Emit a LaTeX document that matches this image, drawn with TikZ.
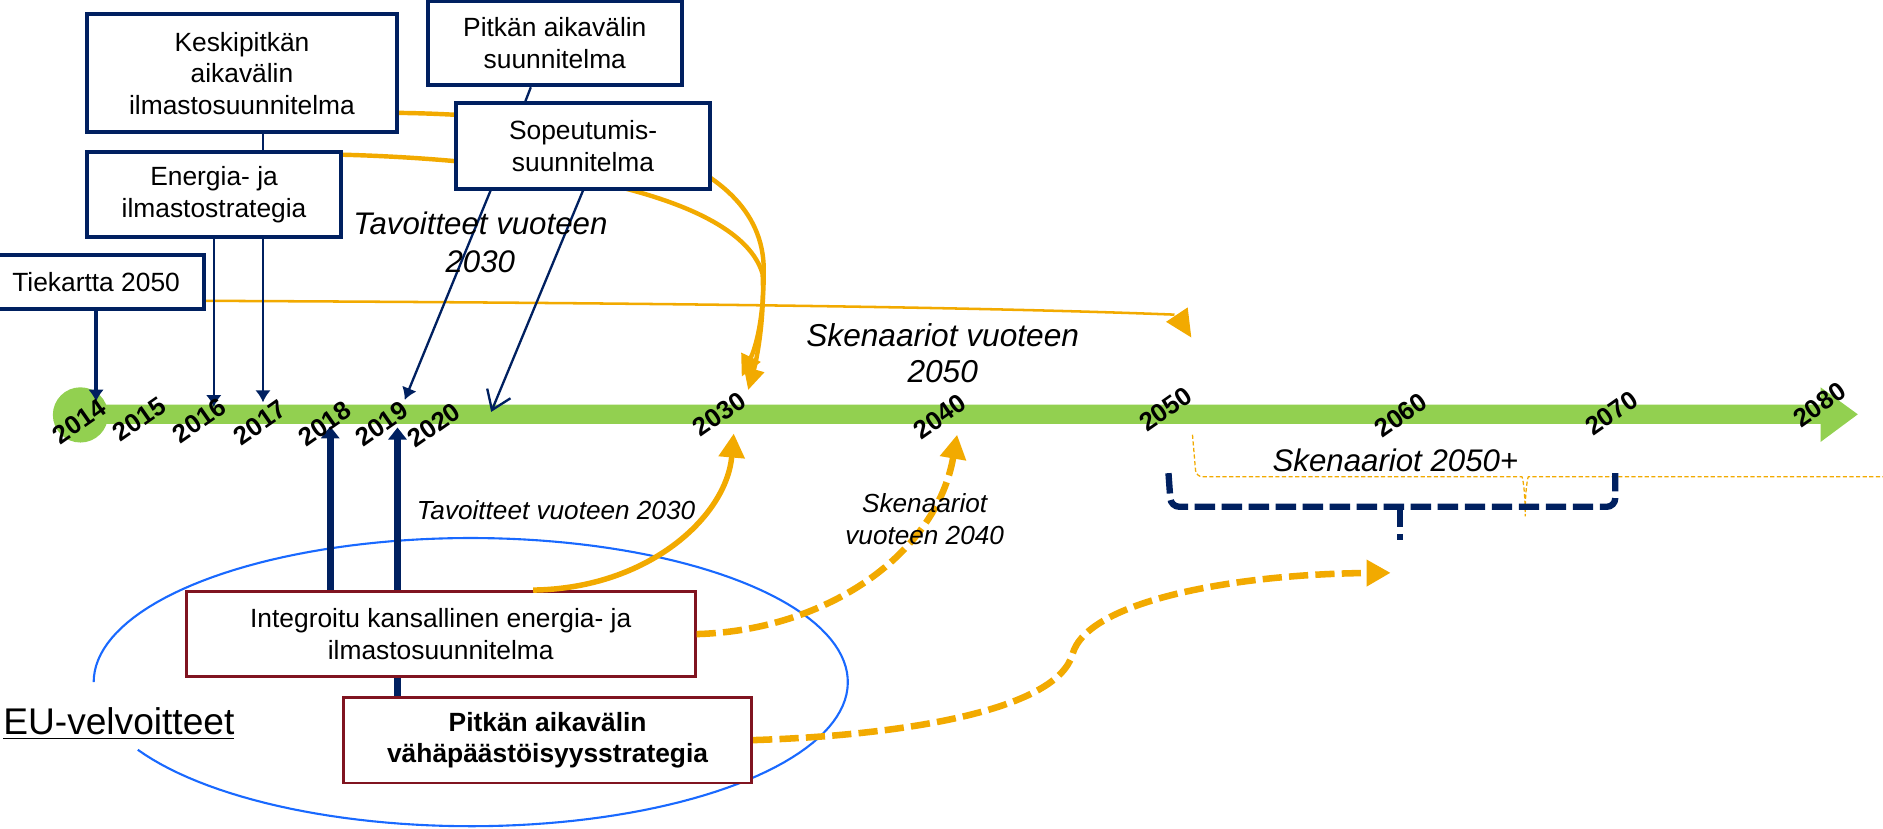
\documentclass[tikz,border=0pt]{standalone}
\usepackage{fontspec}
\setmainfont{Liberation Sans}
\usetikzlibrary{arrows.meta,calc,positioning}
\pgfdeclarelayer{back}
\pgfsetlayers{back,main}
\definecolor{navyc}{RGB}{0,32,96}
\definecolor{goldc}{RGB}{242,170,0}
\definecolor{greenc}{RGB}{146,208,80}
\definecolor{maroonc}{RGB}{128,20,32}
\definecolor{bluec}{RGB}{25,105,255}

\begin{document}
\begin{tikzpicture}[x=0.02cm, y=-0.02cm,
    navybox/.style={draw=navyc, line width=1.9pt, fill=white, inner sep=0pt, align=center, font=\fontsize{12.5}{15}\selectfont},
    redbox/.style={draw=maroonc, line width=1.3pt, fill=white, inner sep=0pt, align=center, font=\fontsize{12.5}{15}\selectfont},
    yr/.style={rotate=35, inner sep=0pt, font=\bfseries\fontsize{12.2}{13}\selectfont},
    note/.style={align=center, inner sep=0pt, font=\itshape\fontsize{12.4}{15.1}\selectfont},
    bignote/.style={align=center, inner sep=0pt, font=\itshape\fontsize{14.8}{18}\selectfont},
    thinnavy/.style={draw=navyc, line width=1.1pt, -{Latex[length=0.2cm,width=0.26cm]}},
    thicknavy/.style={draw=navyc, line width=3.4pt},
    goldsolid/.style={draw=goldc, line width=2.1pt},
    golddash/.style={draw=goldc, line width=3.1pt, dash pattern=on 0.32cm off 0.12cm},
    goldtip/.style={-{Triangle[length=0.4cm,width=0.42cm]}},
    navydash/.style={draw=navyc, line width=3pt, dash pattern=on 0.34cm off 0.11cm},
    thinbrace/.style={draw=goldc, line width=0.6pt, dash pattern=on 0.07cm off 0.04cm}]
    \useasboundingbox (0,0) rectangle (1568,690);

    \coordinate (t14) at (80,334.5);
    \coordinate (t16) at (178,339);
    \coordinate (t17) at (219,335);
    \coordinate (t19) at (337,333);
    \coordinate (t20) at (409,343);
    \coordinate (u18) at (275,355);
    \coordinate (u19) at (331,356);
    \coordinate (g30) at (611,361);
    \coordinate (g40) at (797,362);
    \coordinate (g50) at (1158,477);
    \coordinate (a1) at (617.6,313.7);
    \coordinate (a2) at (623,324.8);
    \coordinate (tk) at (978,262);

    % time axis
    \fill[greenc] (67,337) -- (1516,337) -- (1516,322.5) -- (1547,345) -- (1516,368) -- (1516,353) -- (67,353) -- cycle;
    \fill[greenc] (67,345.5) circle[radius=0.46cm];

    \node[navybox, minimum width=5.16cm, minimum height=1.96cm] (kesk) at (201.5,61) {Keskipitkän\\aikavälin\\ilmastosuunnitelma};
    \node[navybox, minimum width=4.24cm, minimum height=1.4cm] (pitk) at (462,36) {Pitkän aikavälin\\suunnitelma};
    \node[navybox, minimum width=4.22cm, minimum height=1.42cm] (sope) at (485.5,121.5) {Sopeutumis-\\suunnitelma};
    \node[navybox, minimum width=4.23cm, minimum height=1.42cm] (ener) at (178.25,162) {Energia- ja\\ilmastostrategia};
    \node[navybox, minimum width=3.6cm, minimum height=0.9cm] (tiek) at (80,234.5) {Tiekartta 2050};
    \node[redbox, minimum width=8.48cm, minimum height=1.42cm] (inte) at (367,528) {Integroitu kansallinen energia- ja\\ilmastosuunnitelma};
    \node[redbox, minimum width=6.8cm, minimum height=1.43cm, font=\bfseries\fontsize{12.5}{15}\selectfont] (vaha) at (456,616.3) {Pitkän aikavälin\\vähäpäästöisyysstrategia};

    \begin{pgfonlayer}{back}
        \draw[bluec, line width=1pt] plot[domain=180:512, samples=150] ({392+314*cos(\x)}, {568+120*sin(\x)});
        \draw[goldsolid, -{Triangle[length=0.36cm,width=0.34cm]}] ($(kesk.east)+(0,33)$) .. controls (480,96) and (636,125) .. (636,225) .. controls (636,270) and (628,292) .. (a1);
        \draw[goldsolid, -{Triangle[length=0.36cm,width=0.34cm]}] ($(ener.north east)+(0,4)$) .. controls (440,133) and (615,160) .. (635,228) .. controls (637,265) and (630,300) .. (a2);
    \end{pgfonlayer}

    \draw[goldc, line width=1.2pt] ($(tiek.east)+(0,16)$) .. controls (500,252) and (800,255) .. (tk);
    \fill[goldc] (971,268) -- (989,256) -- (992,281) -- cycle;

    \draw[thinnavy, line width=1.7pt] (tiek.south) -- (t14);
    \draw[thinnavy] (ener.south -| t16) -- (t16);
    \draw[thinnavy] (ener.south -| t17) -- (t17);
    \draw[navyc, line width=1.1pt] (kesk.south -| t17) -- (ener.north -| t17);
    \draw[navyc, line width=1.1pt] ($(pitk.south)+(-20,0)$) -- ($(sope.north)+(-48,0)$);
    \draw[thinnavy] ($(sope.south)+(-77,0)$) -- (t19);
    \draw[navyc, line width=1.1pt, -{Straight Barb[length=0.3cm,width=0.42cm]}] (sope.south) -- (t20);
    \draw[thicknavy, -{Triangle[length=0.2cm,width=0.3cm]}] (inte.north -| u18) -- (u18);
    \draw[thicknavy, -{Triangle[length=0.2cm,width=0.3cm]}] (inte.north -| u19) -- (u19);
    \draw[thicknavy] (inte.south -| u19) -- (vaha.north -| u19);

    \draw[goldsolid, line width=2.6pt, goldtip] ($(inte.north)+(77,0)$) .. controls (540,490) and (605,430) .. (g30);
    \draw[golddash, goldtip] (inte.east) .. controls (690,525) and (780,460) .. (g40);
    \draw[golddash, goldtip] (vaha.east) .. controls (760,612) and (880,590) .. (893,545) .. controls (905,500) and (1030,478) .. (g50);

    \draw[thinbrace, rounded corners=3pt] (993,362) -- (996,397) -- (1262,397) .. controls (1268,397) and (1270,410) .. (1270,433) .. controls (1270,410) and (1272,397) .. (1278,397) -- (1568,397);
    \draw[navydash, rounded corners=4pt] (973,394) -- (975,422) -- (1345,422) -- (1345,394);
    \draw[navydash] (1166,422) -- (1166,450);

    \node[bignote] (tav30) at (400,202) {Tavoitteet vuoteen\\2030};
    \node[bignote, font=\itshape\fontsize{15}{17.3}\selectfont] (sken50) at (785,294) {Skenaariot vuoteen\\2050};
    \node[note] (tav30b) at (463,424.7) {Tavoitteet vuoteen 2030};
    \node[note] (sken40) at (770,432) {Skenaariot\\vuoteen 2040};
    \node[bignote] (sken50p) at (1162,383) {Skenaariot 2050+};
    \node[inner sep=0pt, anchor=base, font=\fontsize{17.6}{20}\selectfont] (eu) at (99,612) {\underline{EU-velvoitteet}};

    \foreach \yy/\px/\py in {2014/66/351, 2015/116/349, 2016/166/350, 2017/216.5/352, 2018/270.5/353, 2019/318/353, 2020/361.5/354, 2030/599/345, 2040/782.6/347, 2050/970.5/340.6, 2060/1166.4/345.6, 2070/1342/344, 2080/1515/337}
        \node[yr] (y\yy) at (\px,\py) {\yy};
\end{tikzpicture}
\end{document}
